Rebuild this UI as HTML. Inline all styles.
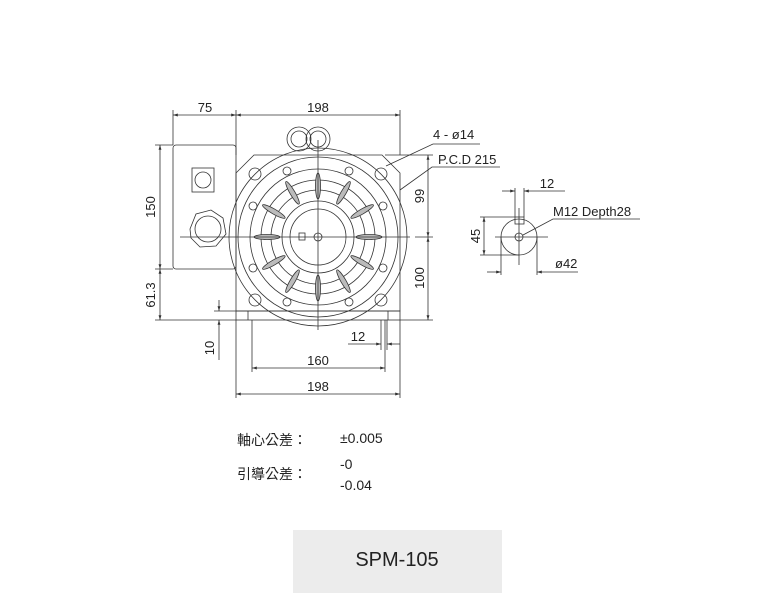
<!DOCTYPE html>
<html><head><meta charset="utf-8"><style>
html,body{margin:0;padding:0;background:#fff;width:768px;height:611px;overflow:hidden}
svg{display:block}
text{font-family:"Liberation Sans","Noto Sans CJK TC",sans-serif;fill:#222}
</style></head><body>
<svg width="768" height="611" viewBox="0 0 768 611" xmlns="http://www.w3.org/2000/svg">
<defs>
<marker id="a" viewBox="0 0 10 10" refX="10" refY="5" markerWidth="6" markerHeight="6" orient="auto-start-reverse"><path d="M0,2 L10,5 L0,8z" fill="#333"/></marker>
</defs>
<g stroke="#333" stroke-width="0.8" fill="none">
<line x1="173" y1="110" x2="173" y2="145"/><line x1="236" y1="110" x2="236" y2="155"/><line x1="400" y1="110" x2="400" y2="155"/>
<line x1="173" y1="115" x2="236" y2="115" marker-start="url(#a)" marker-end="url(#a)"/>
<line x1="236" y1="115" x2="400" y2="115" marker-start="url(#a)" marker-end="url(#a)"/>
<line x1="155" y1="145" x2="173" y2="145"/><line x1="155" y1="269" x2="173" y2="269"/><line x1="155" y1="320" x2="236" y2="320"/>
<line x1="160" y1="145" x2="160" y2="269" marker-start="url(#a)" marker-end="url(#a)"/>
<line x1="160" y1="269" x2="160" y2="320" marker-start="url(#a)" marker-end="url(#a)"/>
<rect x="173" y="145" width="63" height="124" rx="3"/>
<rect x="192" y="168" width="22" height="24"/>
<circle cx="203" cy="180" r="8"/>
<path d="M190,229 L196,214 L211,210 L223,218 L226,234 L216,246 L200,247 L191,238Z"/>
<circle cx="208" cy="229" r="13"/>
<path d="M254,155 L382,155 L400,173 L400,311 L236,311 L236,173 Z"/>
<rect x="236" y="311" width="164" height="9"/>
<line x1="248" y1="311" x2="248" y2="320"/><line x1="388" y1="311" x2="388" y2="320"/>
<circle cx="318" cy="237" r="89"/>
<circle cx="318" cy="237" r="80"/>
<circle cx="318" cy="237" r="68"/>
<circle cx="318" cy="237" r="57"/>
<circle cx="318" cy="237" r="47"/>
<circle cx="318" cy="237" r="36"/>
<circle cx="318" cy="237" r="28"/>
<circle cx="318" cy="237" r="4"/>
<rect x="299" y="233" width="6" height="7"/>
<circle cx="299" cy="139" r="12"/><circle cx="318" cy="139" r="12"/>
<circle cx="299" cy="139" r="8"/><circle cx="318" cy="139" r="8"/>
<circle cx="255" cy="174" r="6"/><circle cx="381" cy="174" r="6"/><circle cx="255" cy="300" r="6"/><circle cx="381" cy="300" r="6"/>
<g>
<circle cx="287" cy="171" r="4"/><circle cx="349" cy="171" r="4"/><circle cx="253" cy="206" r="4"/><circle cx="383" cy="206" r="4"/>
<circle cx="253" cy="268" r="4"/><circle cx="383" cy="268" r="4"/><circle cx="287" cy="302" r="4"/><circle cx="349" cy="302" r="4"/>
</g>
<g fill="#bbb">
<g transform="translate(318 237)">
<ellipse cx="0" cy="-51" rx="2.5" ry="13"/><ellipse cx="0" cy="-51" rx="2.5" ry="13" transform="rotate(30)"/><ellipse cx="0" cy="-51" rx="2.5" ry="13" transform="rotate(60)"/>
<ellipse cx="0" cy="-51" rx="2.5" ry="13" transform="rotate(90)"/><ellipse cx="0" cy="-51" rx="2.5" ry="13" transform="rotate(120)"/><ellipse cx="0" cy="-51" rx="2.5" ry="13" transform="rotate(150)"/>
<ellipse cx="0" cy="-51" rx="2.5" ry="13" transform="rotate(180)"/><ellipse cx="0" cy="-51" rx="2.5" ry="13" transform="rotate(210)"/><ellipse cx="0" cy="-51" rx="2.5" ry="13" transform="rotate(240)"/>
<ellipse cx="0" cy="-51" rx="2.5" ry="13" transform="rotate(270)"/><ellipse cx="0" cy="-51" rx="2.5" ry="13" transform="rotate(300)"/><ellipse cx="0" cy="-51" rx="2.5" ry="13" transform="rotate(330)"/>
</g></g>
<line x1="180" y1="237" x2="410" y2="237"/><line x1="318" y1="140" x2="318" y2="330"/>
<line x1="385" y1="155" x2="433" y2="155"/><line x1="415" y1="237" x2="433" y2="237"/><line x1="400" y1="320" x2="433" y2="320"/>
<line x1="428" y1="155" x2="428" y2="237" marker-start="url(#a)" marker-end="url(#a)"/>
<line x1="428" y1="237" x2="428" y2="320" marker-start="url(#a)" marker-end="url(#a)"/>
<polyline points="480,144 433,144 386,166"/><polyline points="500,167 432,167 400,190"/>
<line x1="214" y1="311" x2="236" y2="311"/>
<line x1="219" y1="300" x2="219" y2="311" marker-end="url(#a)"/>
<line x1="219" y1="360" x2="219" y2="320" marker-end="url(#a)"/>
<line x1="381" y1="320" x2="381" y2="350"/><line x1="387" y1="320" x2="387" y2="350"/>
<line x1="348" y1="344" x2="381" y2="344" marker-end="url(#a)"/><line x1="400" y1="344" x2="387" y2="344" marker-end="url(#a)"/>
<line x1="252" y1="320" x2="252" y2="372"/><line x1="385" y1="320" x2="385" y2="372"/>
<line x1="252" y1="368" x2="385" y2="368" marker-start="url(#a)" marker-end="url(#a)"/>
<line x1="236" y1="320" x2="236" y2="398"/><line x1="400" y1="320" x2="400" y2="398"/>
<line x1="236" y1="394" x2="400" y2="394" marker-start="url(#a)" marker-end="url(#a)"/>
<circle cx="519" cy="237" r="18"/><circle cx="519" cy="237" r="4"/>
<rect x="515" y="217" width="9" height="7"/>
<line x1="495" y1="237" x2="548" y2="237"/><line x1="519" y1="208" x2="519" y2="265"/>
<line x1="515" y1="188" x2="515" y2="217"/><line x1="524" y1="188" x2="524" y2="217"/>
<line x1="502" y1="191" x2="515" y2="191" marker-end="url(#a)"/><line x1="565" y1="191" x2="524" y2="191" marker-end="url(#a)"/>
<line x1="480" y1="217" x2="515" y2="217"/><line x1="480" y1="255" x2="519" y2="255"/>
<line x1="484" y1="217" x2="484" y2="255" marker-start="url(#a)" marker-end="url(#a)"/>
<line x1="501" y1="237" x2="501" y2="275"/><line x1="537" y1="237" x2="537" y2="275"/>
<line x1="487" y1="272" x2="501" y2="272" marker-end="url(#a)"/><line x1="578" y1="272" x2="537" y2="272" marker-end="url(#a)"/>
<polyline points="640,219 553,219 523,235"/>
</g>
<g font-size="13">
<text x="205" y="112" text-anchor="middle">75</text>
<text x="318" y="112" text-anchor="middle">198</text>
<text x="433" y="139">4 - ø14</text>
<text x="438" y="164">P.C.D 215</text>
<text x="155" y="207" text-anchor="middle" transform="rotate(-90 155 207)">150</text>
<text x="155" y="295" text-anchor="middle" transform="rotate(-90 155 295)">61.3</text>
<text x="424" y="196" text-anchor="middle" transform="rotate(-90 424 196)">99</text>
<text x="424" y="278" text-anchor="middle" transform="rotate(-90 424 278)">100</text>
<text x="214" y="348" text-anchor="middle" transform="rotate(-90 214 348)">10</text>
<text x="358" y="341" text-anchor="middle">12</text>
<text x="318" y="365" text-anchor="middle">160</text>
<text x="318" y="391" text-anchor="middle">198</text>
<text x="547" y="188" text-anchor="middle">12</text>
<text x="553" y="216">M12 Depth28</text>
<text x="480" y="236" text-anchor="middle" transform="rotate(-90 480 236)">45</text>
<text x="555" y="268">ø42</text>
<text x="237" y="445" font-size="14">軸心公差：</text>
<text x="340" y="443" font-size="14">±0.005</text>
<text x="237" y="479" font-size="14">引導公差：</text>
<text x="340" y="469" font-size="14">-0</text>
<text x="340" y="490" font-size="14">-0.04</text>
</g>
<rect x="293" y="530" width="209" height="63" fill="#ececec"/>
<text x="397" y="566" font-size="20" text-anchor="middle" fill="#333">SPM-105</text>
</svg>
</body></html>
